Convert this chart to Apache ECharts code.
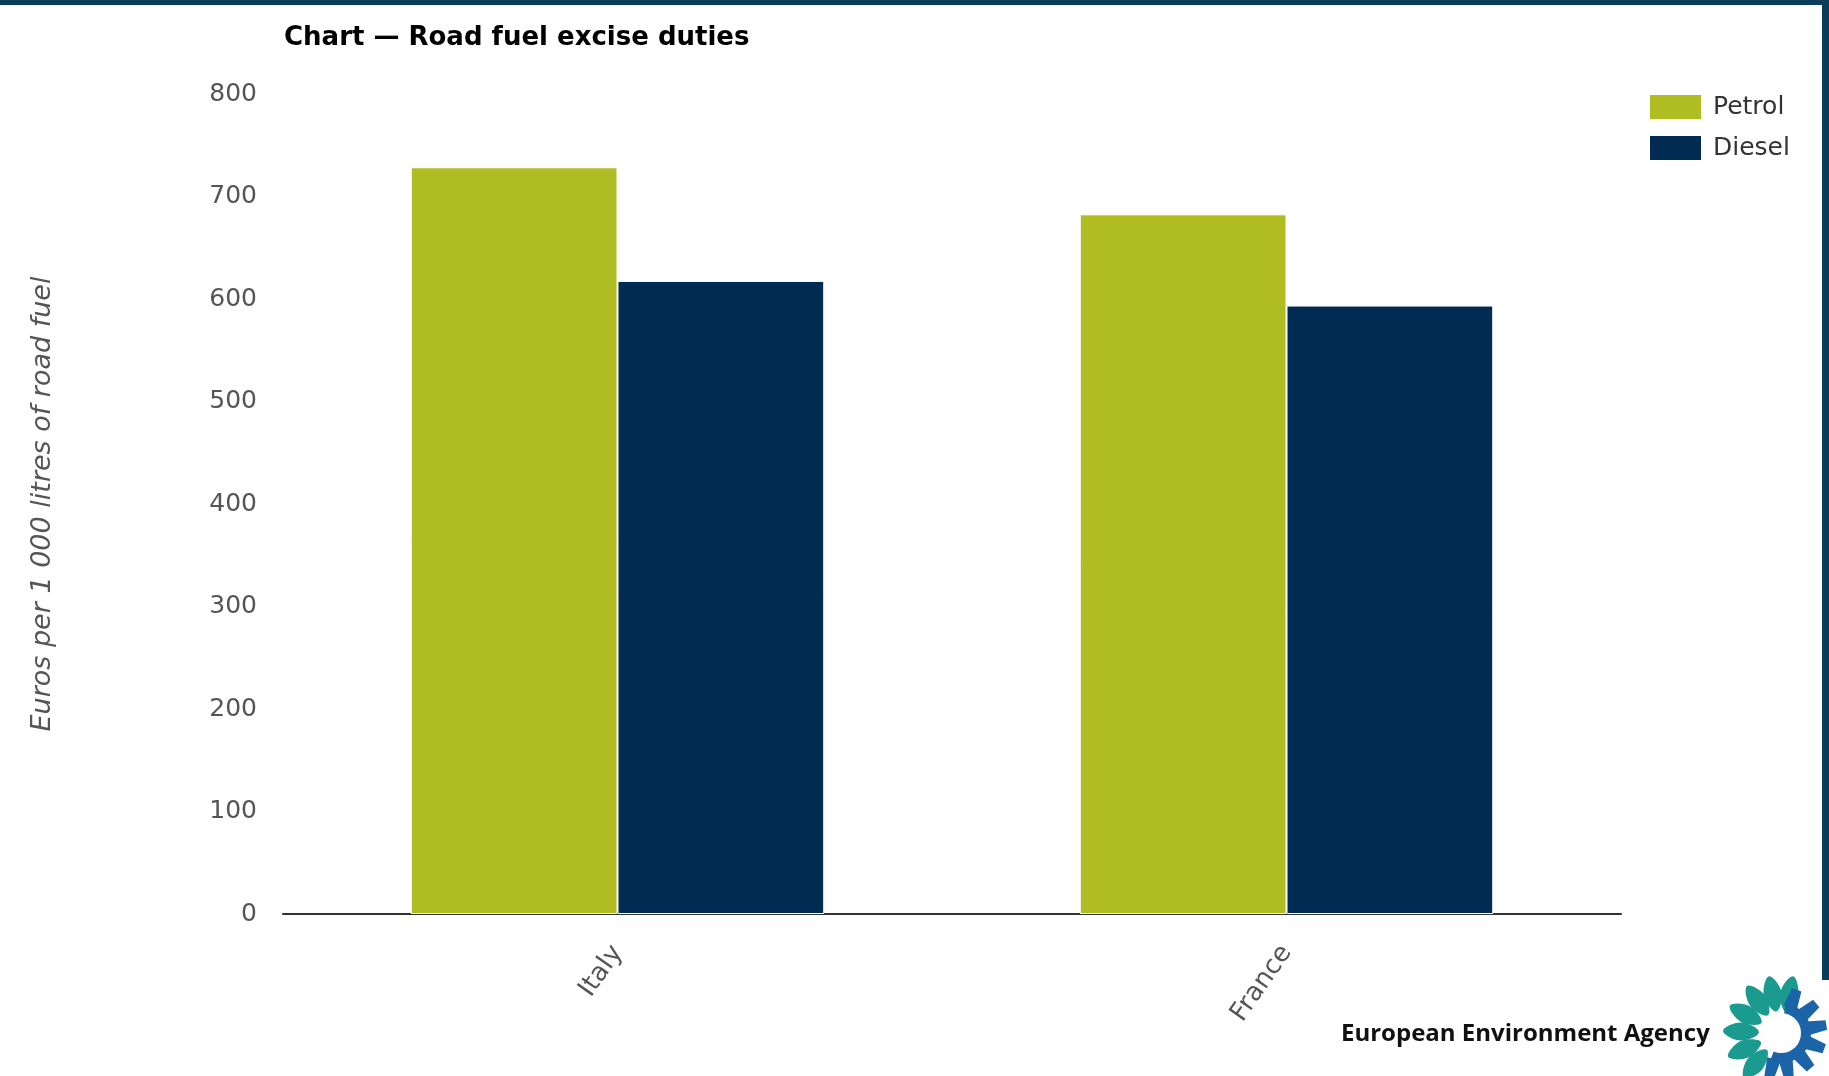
<!DOCTYPE html>
<html>
<head>
<meta charset="utf-8">
<script src="https://cdn.jsdelivr.net/npm/echarts@6/dist/echarts.min.js"></script>
<style>
html,body{margin:0;padding:0;background:#fff;}
#chart{width:1829px;height:1076px;}
</style>
</head>
<body>
<div id="chart"></div>
<script>
const titleText = 'Chart \u2014 Road fuel excise duties';
const yAxisName = 'Euros per 1 000 litres of road fuel';
const categories = ['Italy', 'France'];
const seriesNames = ['Petrol', 'Diesel'];
const petrolValues = [728.5, 682.6];
const dieselValues = [617.6, 593.6];
const yTicks = { min: 0, max: 800, interval: 100 };
const footerText = 'European Environment Agency';

const chart = echarts.init(document.getElementById('chart'));

// decorative EEA logo (not data)
function logoGraphics(cx, cy) {
  const els = [];
  const tealAngles = [78, 102, 126, 152, 178, 204, 230];
  tealAngles.forEach(a => {
    const r1 = 22, r2 = 58, w = 9;
    const rad = a * Math.PI / 180;
    const ux = Math.cos(rad), uy = -Math.sin(rad);
    const px = -uy, py = ux;
    const rm = (r1 + r2) / 2;
    els.push({
      type: 'polygon',
      shape: { points: [
        [cx + ux * r1, cy + uy * r1],
        [cx + ux * rm + px * w, cy + uy * rm + py * w],
        [cx + ux * r2, cy + uy * r2],
        [cx + ux * rm - px * w, cy + uy * rm - py * w]
      ], smooth: 0.4 },
      style: { fill: '#1b9a8f' }
    });
  });
  els.push({
    type: 'arc',
    shape: { cx: cx, cy: cy, r: 25, startAngle: -Math.PI * 0.45, endAngle: Math.PI * 0.62, clockwise: true },
    style: { stroke: '#1c64a8', lineWidth: 10, fill: null }
  });
  const teeth = [-70, -40, -10, 20, 50, 80, 105];
  teeth.forEach(a => {
    const rad = a * Math.PI / 180;
    const ux = Math.cos(rad), uy = Math.sin(rad);
    const px = -uy, py = ux;
    const r1 = 27, r2 = 46, w = 7;
    els.push({
      type: 'polygon',
      shape: { points: [
        [cx + ux * r1 + px * w, cy + uy * r1 + py * w],
        [cx + ux * r2 + px * w * 0.7, cy + uy * r2 + py * w * 0.7],
        [cx + ux * r2 - px * w * 0.7, cy + uy * r2 - py * w * 0.7],
        [cx + ux * r1 - px * w, cy + uy * r1 - py * w]
      ] },
      style: { fill: '#1c64a8' }
    });
  });
  return els;
}

const option = {
  backgroundColor: '#ffffff',
  animation: false,
  textStyle: { fontFamily: 'DejaVu Sans' },
  title: {
    text: titleText,
    left: 279,
    top: 20,
    textStyle: { fontFamily: 'DejaVu Sans', fontWeight: 'bold', fontSize: 26, color: '#000' }
  },
  legend: {
    orient: 'vertical',
    left: 1643,
    top: 88,
    itemWidth: 53,
    itemHeight: 26,
    itemGap: 13,
    icon: 'rect',
    data: seriesNames,
    textStyle: { fontFamily: 'DejaVu Sans', fontSize: 25, color: '#333', padding: [0, 0, 0, 6] }
  },
  grid: { left: 283, right: 208, top: 94, bottom: 162, containLabel: false },
  xAxis: {
    type: 'category',
    data: categories,
    axisLine: { show: true, lineStyle: { color: '#333', width: 2 } },
    axisTick: { show: false },
    axisLabel: { rotate: 55, fontSize: 26, color: '#555', margin: 34, fontFamily: 'DejaVu Sans' }
  },
  yAxis: {
    type: 'value',
    min: yTicks.min,
    max: yTicks.max,
    interval: yTicks.interval,
    name: yAxisName,
    nameLocation: 'middle',
    nameGap: 227,
    nameTextStyle: { fontFamily: 'DejaVu Sans', fontStyle: 'italic', fontSize: 27, color: '#555' },
    axisLine: { show: false },
    axisTick: { show: false },
    splitLine: { show: false },
    axisLabel: { fontSize: 25, color: '#555', margin: 26, fontFamily: 'DejaVu Sans' }
  },
  series: [
    {
      name: seriesNames[0], type: 'bar', data: petrolValues,
      barGap: '0%', barCategoryGap: '38.2%',
      itemStyle: { color: '#afbd22', borderColor: '#ffffff', borderWidth: 1 }
    },
    {
      name: seriesNames[1], type: 'bar', data: dieselValues,
      barGap: '0%', barCategoryGap: '38.2%',
      itemStyle: { color: '#002c54', borderColor: '#ffffff', borderWidth: 1 }
    }
  ],
  graphic: [
    { type: 'rect', shape: { x: 0, y: 0, width: 1829, height: 5 }, style: { fill: '#0b3c5a' }, z: 100 },
    { type: 'rect', shape: { x: 1822, y: 0, width: 7, height: 980 }, style: { fill: '#0b3c5a' }, z: 100 },
    {
      type: 'text', left: 1341, top: 1022,
      style: { text: footerText, fontFamily: 'Open Sans', fontWeight: 'bold', fontSize: 24, fill: '#111' }
    }
  ].concat(logoGraphics(1781, 1033))
};

chart.setOption(option);
</script>
</body>
</html>
